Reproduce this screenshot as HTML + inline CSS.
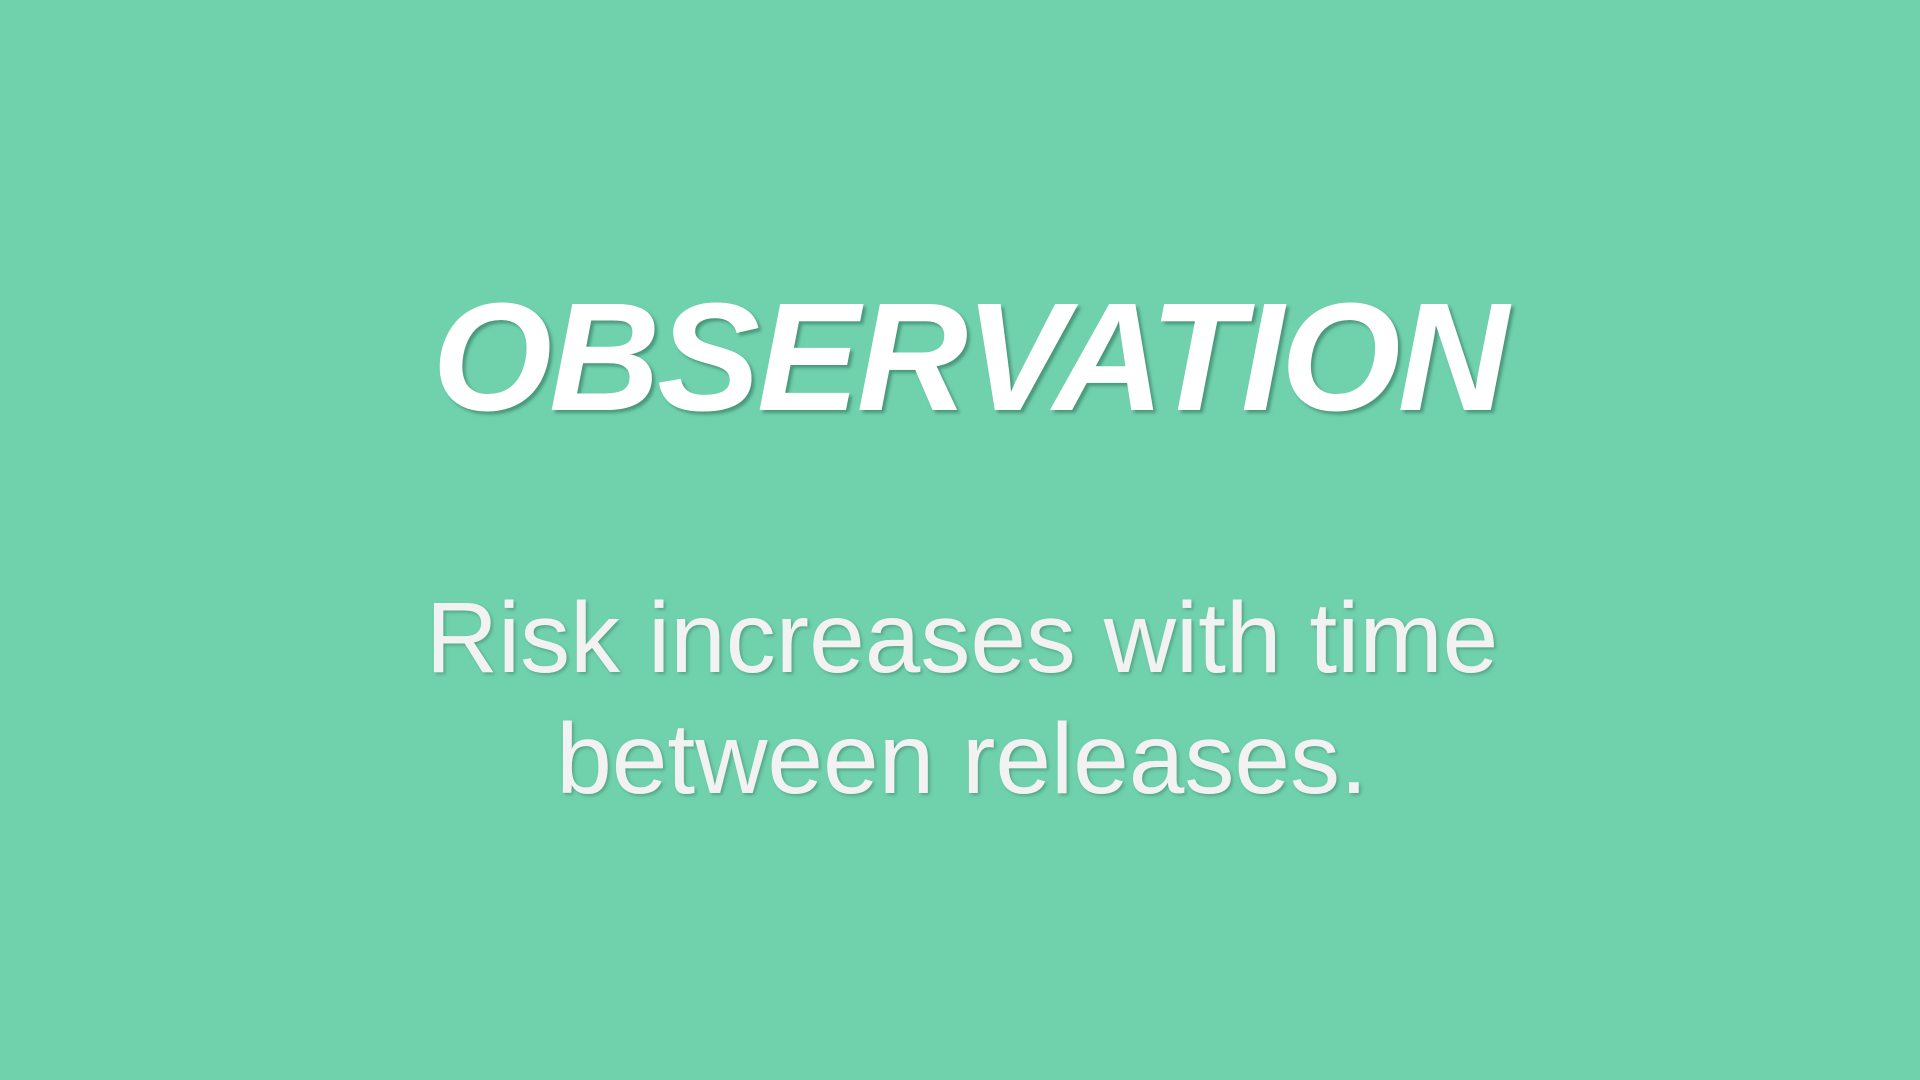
<!DOCTYPE html>
<html>
<head>
<meta charset="utf-8">
<style>
  html, body { margin:0; padding:0; width:1920px; height:1080px; overflow:hidden; background:#70d1ad; }
  svg { display:block; }
</style>
</head>
<body>
<svg width="1920" height="1080" viewBox="0 0 1920 1080">
  <defs>
    <filter id="sh" x="-10%" y="-20%" width="120%" height="140%">
      <feDropShadow dx="3" dy="3" stdDeviation="1.5" flood-color="#3f8a6e" flood-opacity="0.8"/>
    </filter>
    <filter id="sh2" x="-10%" y="-20%" width="120%" height="140%">
      <feDropShadow dx="2" dy="2" stdDeviation="1.5" flood-color="#3f8a6e" flood-opacity="0.6"/>
    </filter>
  </defs>
  <rect width="1920" height="1080" fill="#70d1ad"/>
  <text x="969" y="410" text-anchor="middle" font-family="'Liberation Sans', Arial, sans-serif" font-weight="bold" font-style="italic" font-size="154" letter-spacing="-3" fill="#ffffff" filter="url(#sh)">OBSERVATION</text>
  <text x="962" y="672" text-anchor="middle" font-family="'Liberation Sans', Arial, sans-serif" font-size="100" fill="#f2f2f2" filter="url(#sh2)">Risk increases with time</text>
  <text x="962" y="793" text-anchor="middle" font-family="'Liberation Sans', Arial, sans-serif" font-size="100" fill="#f2f2f2" filter="url(#sh2)">between releases.</text>
</svg>
</body>
</html>
